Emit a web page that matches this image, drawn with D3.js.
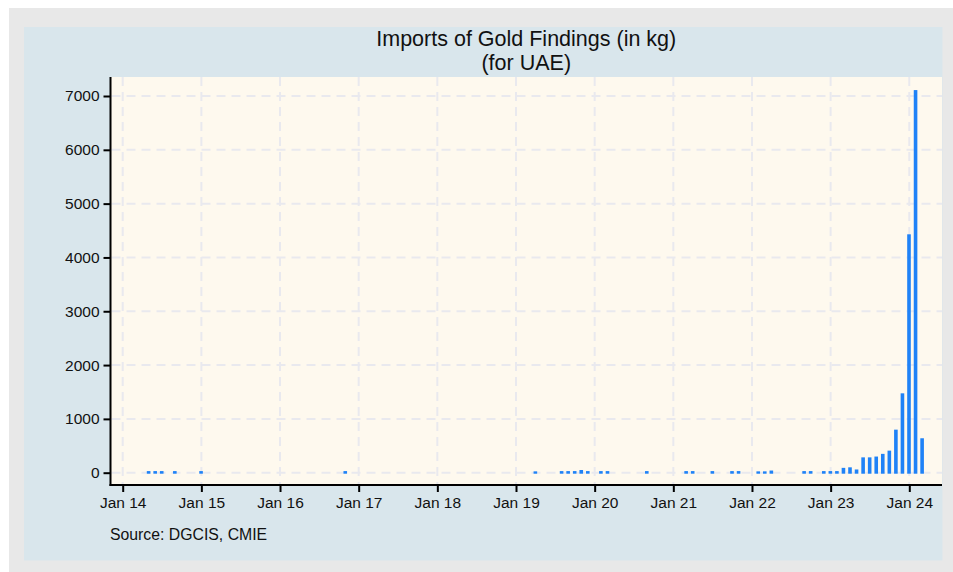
<!DOCTYPE html>
<html>
<head>
<meta charset="utf-8">
<script src="https://cdn.jsdelivr.net/npm/d3@7"></script>
<style>
  html, body { margin: 0; padding: 0; background: #ffffff; }
  svg { display: block; font-family: "Liberation Sans", Arial, sans-serif; }
</style>
</head>
<body>
<svg id="chart" width="953" height="572"></svg>
<script>
// ---- data ----
// month index: 0 = Jan 2014
const monthIndex = [4, 5, 6, 8, 12, 34, 63, 67, 68, 69, 70, 71, 73, 74, 80, 86, 87, 90, 93, 94,
                    97, 98, 99, 104, 105, 107, 108, 109, 110, 111, 112, 113, 114, 115, 116, 117,
                    118, 119, 120, 121, 122];
const importsKg = [30, 30, 30, 30, 30, 30, 25, 30, 30, 30, 50, 30, 30, 30, 30, 30, 30, 30, 30, 30,
                   25, 25, 40, 30, 30, 30, 30, 30, 90, 100, 60, 285, 285, 300, 350, 410,
                   800, 1475, 4430, 7110, 640];
const xTickMonths = [0, 12, 24, 36, 48, 60, 72, 84, 96, 108, 120];
const xTickLabels = ["Jan 14", "Jan 15", "Jan 16", "Jan 17", "Jan 18", "Jan 19", "Jan 20",
                     "Jan 21", "Jan 22", "Jan 23", "Jan 24"];
const yTicks = [0, 1000, 2000, 3000, 4000, 5000, 6000, 7000];
const titleLines = ["Imports of Gold Findings (in kg)", "(for UAE)"];
const sourceNote = "Source: DGCIS, CMIE";

const data = monthIndex.map((m, i) => ({ m, v: importsKg[i] }));

// ---- layout ----
const svg = d3.select("#chart");
const plot = { left: 110.5, right: 942, top: 77, bottom: 485 };

svg.append("rect").attr("x", 9).attr("y", 8).attr("width", 944).attr("height", 564).attr("fill", "#e8e8e8");
svg.append("rect").attr("x", 24).attr("y", 27).attr("width", 918.5).attr("height", 533.5).attr("fill", "#d9e6ec");
svg.append("rect").attr("x", plot.left).attr("y", plot.top)
   .attr("width", plot.right - plot.left).attr("height", plot.bottom - plot.top).attr("fill", "#fef9ee");

const x = d3.scaleLinear().domain([0, 120]).range([122.7, 909.3]);
const y = d3.scaleLinear().domain([0, 7000]).range([472.7, 96]);

const gridColor = "#e9e9ee";
// horizontal grid
svg.append("g").selectAll("line").data(yTicks).join("line")
  .attr("x1", plot.left + 1).attr("x2", plot.right)
  .attr("y1", d => y(d)).attr("y2", d => y(d))
  .attr("stroke", gridColor).attr("stroke-width", 2).attr("stroke-dasharray", "9,6");
// vertical grid
svg.append("g").selectAll("line").data(xTickMonths).join("line")
  .attr("x1", d => x(d)).attr("x2", d => x(d))
  .attr("y1", plot.top).attr("y2", plot.bottom - 1)
  .attr("stroke", gridColor).attr("stroke-width", 2).attr("stroke-dasharray", "9,6");

// bars
const bw = 3.6;
svg.append("g").selectAll("rect").data(data).join("rect")
  .attr("x", d => x(d.m) - 0.3 - bw / 2)
  .attr("y", d => y(d.v))
  .attr("width", bw)
  .attr("height", d => y(0) - y(d.v) + 1)
  .attr("fill", "#1f82f7");

// axes
const yAxis = d3.axisLeft(y).tickValues(yTicks).tickSize(7).tickPadding(4).tickFormat(d3.format("d"));
const gy = svg.append("g").attr("transform", `translate(${plot.left},0)`).call(yAxis);
gy.select(".domain").remove();
gy.append("line").attr("x1", 0).attr("x2", 0).attr("y1", plot.top).attr("y2", plot.bottom + 1)
  .attr("stroke", "#000").attr("stroke-width", 2);

const xAxis = d3.axisBottom(x).tickValues(xTickMonths).tickSize(7).tickPadding(5)
  .tickFormat((d, i) => xTickLabels[i]);
const gx = svg.append("g").attr("transform", `translate(0,${plot.bottom})`).call(xAxis);
gx.select(".domain").remove();
gx.append("line").attr("x1", plot.left - 1).attr("x2", plot.right).attr("y1", 0).attr("y2", 0)
  .attr("stroke", "#000").attr("stroke-width", 2);

[gx, gy].forEach(g => {
  g.selectAll(".tick line").attr("stroke", "#000").attr("stroke-width", 2);
  g.selectAll(".tick text").attr("fill", "#111").style("font-size", "15.5px")
   .style("font-family", "'Liberation Sans', Arial, sans-serif");
});

// title
const cx = (plot.left + plot.right) / 2;
svg.append("text").attr("x", cx).attr("y", 46).attr("text-anchor", "middle")
  .style("font-size", "21.5px").attr("fill", "#111").text(titleLines[0]);
svg.append("text").attr("x", cx).attr("y", 70).attr("text-anchor", "middle")
  .style("font-size", "21.5px").attr("fill", "#111").text(titleLines[1]);

// source
svg.append("text").attr("x", 110).attr("y", 540).style("font-size", "15.8px").attr("fill", "#111")
  .text(sourceNote);
</script>
</body>
</html>
